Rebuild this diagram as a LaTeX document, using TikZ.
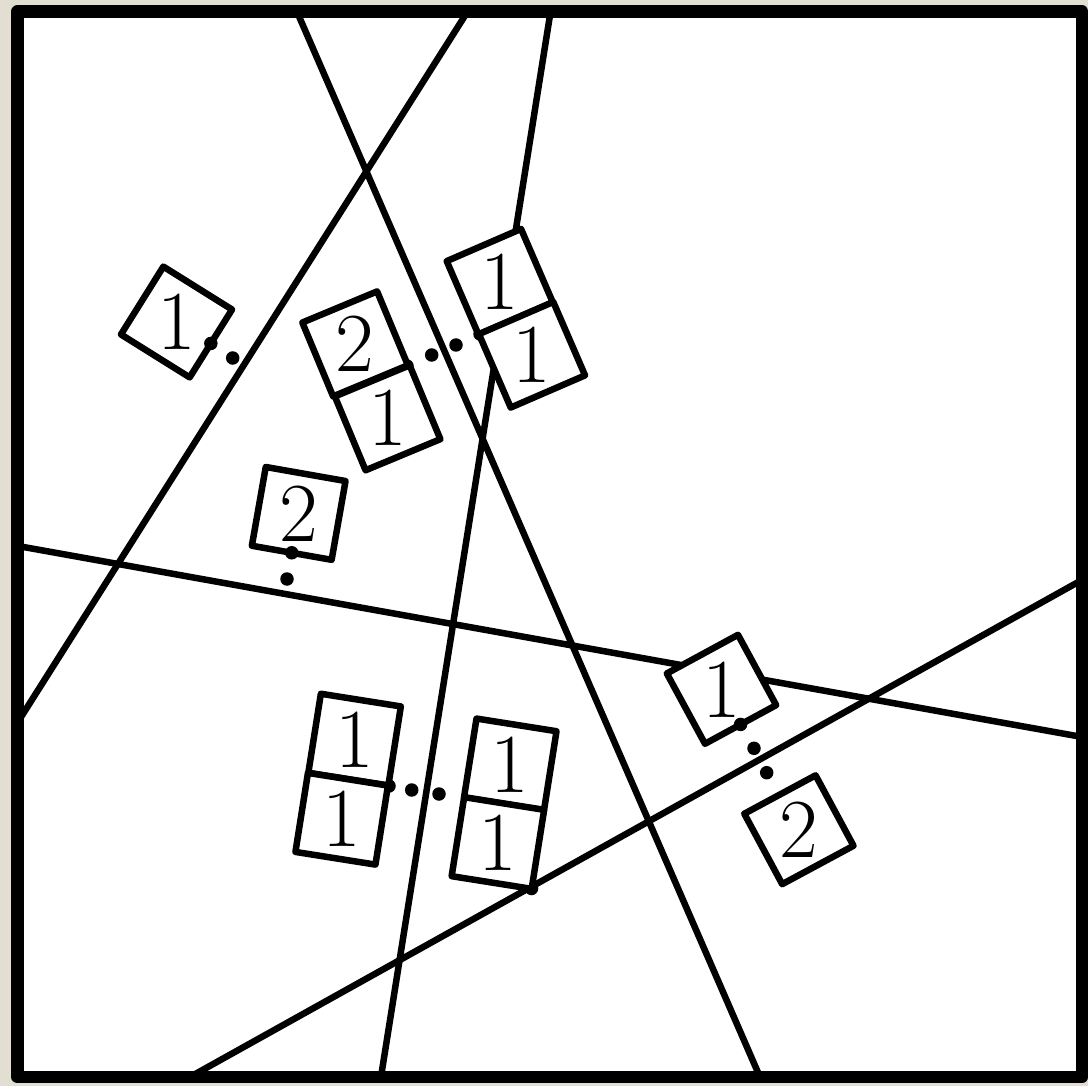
\documentclass[tikz,border=0pt]{standalone}
\definecolor{paper}{RGB}{226,222,209}
\begin{document}
\begin{tikzpicture}[x=1pt,y=-1pt,
  cell/.style={draw,fill=white,line width=6.5pt,line join=round,minimum width=81pt,minimum height=80pt,inner sep=0pt,outer sep=0pt},
  digit/.style={inner sep=0pt,font=\fontsize{84}{84}\selectfont},
  dotc/.style={circle,fill=black,draw=none,inner sep=0pt,minimum size=13.5pt},
  ln/.style={line width=6.5pt}]
\fill[paper] (0,0) rectangle (1088,1086);
\useasboundingbox (0,0) rectangle (1088,1086);
\fill[white] (17.5,11.5) rectangle (1082,1077);
% lines
\begin{scope}
\clip (17.5,11.5) rectangle (1082,1077);
\coordinate (a1) at (291.9,0);   \coordinate (a2) at (765.6,1090);
\coordinate (b1) at (474.9,0);   \coordinate (b2) at (-31.5,800);
\coordinate (c1) at (552.4,0);   \coordinate (c2) at (378.9,1090);
\coordinate (d1) at (0,542.8);   \coordinate (d2) at (1090,738.4);
\coordinate (e1) at (1090,575.5);\coordinate (e2) at (170,1088.1);
\draw[ln] (a1) -- (a2);
\draw[ln] (b1) -- (b2);
\draw[ln] (c1) -- (c2);
\draw[ln] (d1) -- (d2);
\draw[ln] (e1) -- (e2);
\end{scope}
% dots partly covered by boxes
\node[dotc] (p2) at (407,366) {};
\node[dotc] (p3) at (480,334) {};
\node[dotc] (p5) at (389,786) {};
\node[dotc] (p6) at (531.5,888.5) {};
% separate dots
\node[dotc] (s1) at (232.7,358) {};
\node[dotc] (s2) at (431.7,355) {};
\node[dotc] (s3) at (456,345) {};
\node[dotc] (s4) at (287,579) {};
\node[dotc] (s5) at (411.7,790) {};
\node[dotc] (s6) at (439,794) {};
\node[dotc] (s7) at (754,748.3) {};
\node[dotc] (s8) at (766.7,772.7) {};
% boxes
\node[cell,rotate=-32] (B1) at (176.5,322) {};
\node[digit] (T1) at (B1.center) {1};
\node[cell,rotate=22.6] (B2a) at (355.1,343.9) {};
\node[cell,rotate=22.6] (B2b) at (387.6,417.8) {};
\node[digit] (T2a) at (B2a.center) {2};
\node[digit] (T2b) at (B2b.center) {1};
\node[cell,rotate=23.4] (B3a) at (499.75,281.75) {};
\node[cell,rotate=23.4] (B3b) at (532,354.75) {};
\node[digit] (T3a) at (B3a.center) {1};
\node[digit] (T3b) at (B3b.center) {1};
\node[cell,rotate=-10] (B4) at (298.7,513.4) {};
\node[digit] (T4) at (B4.center) {2};
\node[cell,rotate=-9] (B5a) at (354.6,739.6) {};
\node[cell,rotate=-9] (B5b) at (341.7,818.75) {};
\node[digit] (T5a) at (B5a.center) {1};
\node[digit] (T5b) at (B5b.center) {1};
\node[cell,rotate=-9] (B6a) at (510.25,764.4) {};
\node[cell,rotate=-9] (B6b) at (497.9,843) {};
\node[digit] (T6a) at (B6a.center) {1};
\node[digit] (T6b) at (B6b.center) {1};
\node[cell,rotate=28.5] (B7) at (721.5,689.3) {};
\node[digit] (T7) at (B7.center) {1};
\node[cell,rotate=28.3] (B8) at (798.9,829.75) {};
\node[digit] (T8) at (B8.center) {2};
% edge dots on single boxes
\node[dotc] (p1) at (B1.east) {};
\node[dotc] (p4) at (B4.south) {};
\node[dotc] (p7) at (B7.south) {};
% frame
\draw[line width=12.5pt,line join=round] (17.5,11.5) rectangle (1082,1077);
\end{tikzpicture}
\end{document}
